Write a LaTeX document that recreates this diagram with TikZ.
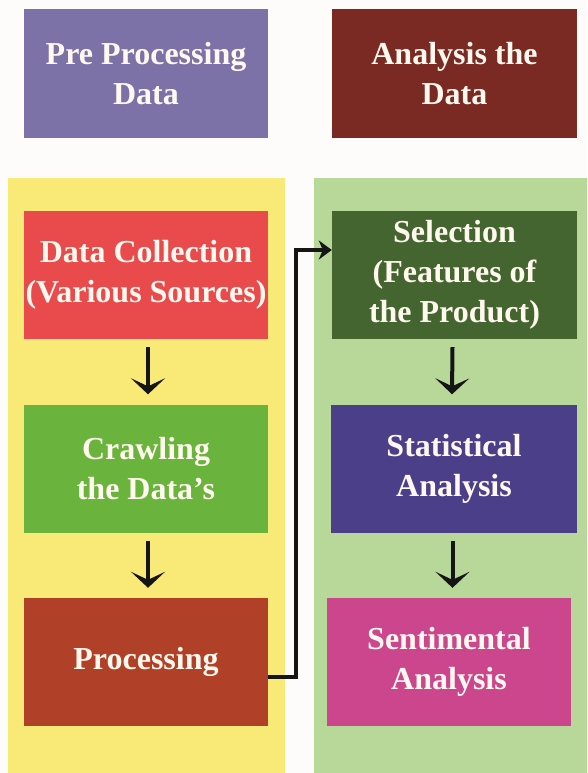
\documentclass[tikz,border=0pt]{standalone}
\usepackage{fontspec}
\setmainfont{Liberation Serif}
\usetikzlibrary{arrows.meta}
\definecolor{bgc}{HTML}{FDFCFA}
\definecolor{cpurple}{HTML}{7D72A8}
\definecolor{cmaroon}{HTML}{7A2A22}
\definecolor{cyellow}{HTML}{F9EA77}
\definecolor{cgreenbg}{HTML}{B8D89A}
\definecolor{cred}{HTML}{E94B4D}
\definecolor{cdkgreen}{HTML}{44652F}
\definecolor{cgreen}{HTML}{6AB33D}
\definecolor{cindigo}{HTML}{4B3F8A}
\definecolor{cbrick}{HTML}{B04027}
\definecolor{cpink}{HTML}{CC468E}
\definecolor{ctext}{HTML}{FFF8EE}
\definecolor{cline}{HTML}{151515}
\tikzset{
  box/.style={rectangle, minimum width=244pt, minimum height=128pt, inner sep=0pt,
    text=ctext, align=center, font=\fontsize{32}{40}\selectfont\bfseries},
  conn/.style={draw=cline, line width=4pt, -{Stealth[length=16pt,width=34pt,inset=8pt]}},
}
\begin{document}
\begin{tikzpicture}[x=1pt,y=-1pt]
\fill[bgc] (0,0) rectangle (587,773);
\useasboundingbox (0,0) rectangle (587,773);
\fill[cyellow] (8,178) rectangle (285,773);
\fill[cgreenbg] (314,178) rectangle (587,773);

\node[box, fill=cpurple] (pre) at (146,73.5) {Pre Processing\\Data};
\node[box, fill=cmaroon, minimum width=245pt] (ana) at (454.5,73.5) {Analysis the\\Data};

\node[box, fill=cred] (dc) at (146,275) {Data Collection\\(Various Sources)};
\node[box, fill=cgreen] (cr) at (146,468.5) {Crawling\\the Data’s};
\node[box, fill=cbrick] (pr) at (146,662) {Processing};

\node[box, fill=cdkgreen, minimum width=245pt] (sel) at (454.5,275) {Selection\\(Features of\\the Product)};
\node[box, fill=cindigo, minimum width=246pt] (st) at (454,468.5) {Statistical\\Analysis};
\node[box, fill=cpink] (se) at (449,662) {Sentimental\\Analysis};

\draw[conn] ([yshift=-8pt,xshift=2pt]dc.south) -- ([yshift=10pt,xshift=2pt]cr.north);
\draw[conn] ([yshift=-8pt,xshift=2pt]cr.south) -- ([yshift=10pt,xshift=2pt]pr.north);
\draw[conn] ([yshift=-8pt,xshift=-2pt]sel.south) -- ([yshift=10pt,xshift=-2pt]st.north);
\draw[conn] ([yshift=-8pt,xshift=-1.5pt]st.south) -- ([yshift=10pt,xshift=3.5pt]se.north);
\draw[conn, line width=3.5pt, -{Stealth[length=13pt,width=19pt,inset=4pt]}] ([yshift=-15pt]pr.east) -- ++(28,0) |- ([yshift=25pt]sel.west);
\end{tikzpicture}
\end{document}
